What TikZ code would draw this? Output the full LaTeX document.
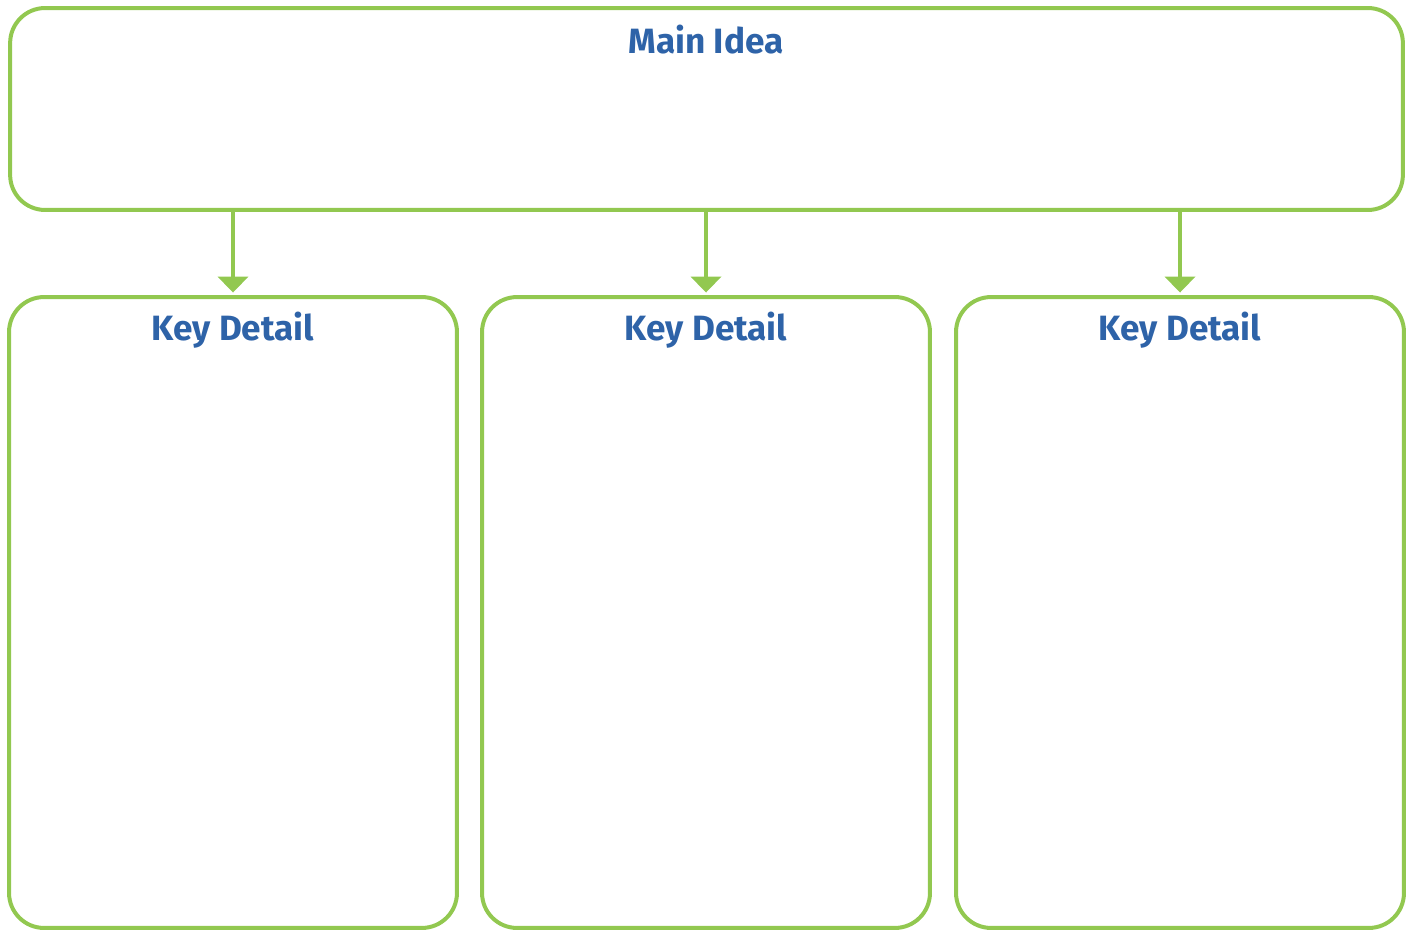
\documentclass[tikz,border=0pt]{standalone}
\usepackage{fontspec}
\setmainfont{Fira Sans}
\usetikzlibrary{arrows.meta}
\definecolor{leafgreen}{RGB}{146,200,80}
\definecolor{inkblue}{RGB}{46,99,168}
\tikzset{
  box/.style={draw=leafgreen, line width=0.08cm, rounded corners=0.7cm, inner sep=0pt},
  head/.style={text=inkblue, font=\bfseries\fontsize{20}{24}\selectfont},
  link/.style={draw=leafgreen, line width=0.08cm, -{Triangle[width=0.6cm,length=0.32cm]}}
}
\begin{document}
\begin{tikzpicture}[x=0.02cm, y=-0.02cm]
        \useasboundingbox (0, 0) rectangle (1413, 932);
        \node [box, minimum width=27.86cm, minimum height=4.04cm] (main) at (706.5, 109) {};
        \node [head] (maint) at (706, 40) {Main Idea};
        \node [box, minimum width=8.96cm, minimum height=12.62cm] (kd1) at (233, 612.5) {};
        \node [box, minimum width=8.96cm, minimum height=12.62cm] (kd2) at (706, 612.5) {};
        \node [box, minimum width=8.96cm, minimum height=12.62cm] (kd3) at (1180, 612.5) {};
        \node [head] (kd1t) at (233, 330) {Key Detail};
        \node [head] (kd2t) at (706, 330) {Key Detail};
        \node [head] (kd3t) at (1180, 330) {Key Detail};
        \draw [link] (main.south -| kd1) -- ([yshift=0.05cm]kd1.north);
        \draw [link] (main.south -| kd2) -- ([yshift=0.05cm]kd2.north);
        \draw [link] (main.south -| kd3) -- ([yshift=0.05cm]kd3.north);
    \end{tikzpicture}
\end{document}
